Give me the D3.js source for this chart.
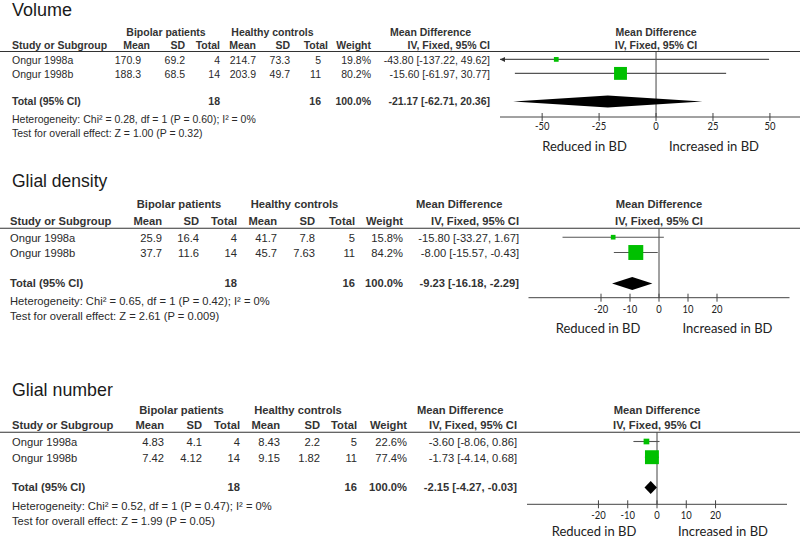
<!DOCTYPE html>
<html><head><meta charset="utf-8">
<script src="https://cdn.jsdelivr.net/npm/d3@7"></script>
<style>body{margin:0;background:#fff}svg{display:block}</style>
</head><body><svg id="c" width="800" height="538"></svg>
<script>
// ---------- data ----------
const outcomes = ["Volume", "Glial density", "Glial number"];
const studies = ["Ongur 1998a", "Ongur 1998b"];
const bpMean = [[170.9, 188.3], [25.9, 37.7], [4.83, 7.42]];
const bpSD = [[69.2, 68.5], [16.4, 11.6], [4.1, 4.12]];
const bpN = [[4, 14], [4, 14], [4, 14]];
const hcMean = [[214.7, 203.9], [41.7, 45.7], [8.43, 9.15]];
const hcSD = [[73.3, 49.7], [7.8, 7.63], [2.2, 1.82]];
const hcN = [[5, 11], [5, 11], [5, 11]];
const weights = [[19.8, 80.2], [15.8, 84.2], [22.6, 77.4]];
const md = [[-43.80, -15.60], [-15.80, -8.00], [-3.60, -1.73]];
const ciLow = [[-137.22, -61.97], [-33.27, -15.57], [-8.06, -4.14]];
const ciHigh = [[49.62, 30.77], [1.67, -0.43], [0.86, 0.68]];
const totalMD = [-21.17, -9.23, -2.15];
const totalLow = [-62.71, -16.18, -4.27];
const totalHigh = [20.36, -2.29, -0.03];
const totalBpN = [18, 18, 18];
const totalHcN = [16, 16, 16];
const totalWeight = [100, 100, 100];
const heterogeneity = [
  "Heterogeneity: Chi\u00b2 = 0.28, df = 1 (P = 0.60); I\u00b2 = 0%",
  "Heterogeneity: Chi\u00b2 = 0.65, df = 1 (P = 0.42); I\u00b2 = 0%",
  "Heterogeneity: Chi\u00b2 = 0.52, df = 1 (P = 0.47); I\u00b2 = 0%"];
const overallEffect = [
  "Test for overall effect: Z = 1.00 (P = 0.32)",
  "Test for overall effect: Z = 2.61 (P = 0.009)",
  "Test for overall effect: Z = 1.99 (P = 0.05)"];
const axisTicks = [[-50, -25, 0, 25, 50], [-20, -10, 0, 10, 20], [-20, -10, 0, 10, 20]];
const axisDomains = [[-68.5, 63.2], [-45, 45], [-44.4, 44.4]];
const favourLabels = ["Reduced in BD", "Increased in BD"];
const groupHeaders = ["Bipolar patients", "Healthy controls"];
const colHeaders = ["Study or Subgroup", "Mean", "SD", "Total", "Mean", "SD", "Total", "Weight"];

// ---------- layout ----------
const layout = [
  {fs:10.5, titleY:15.5, titleSize:18, yH1:35.5, yH2:48.8, yLine:51.5, yRows:[64.2,78.2], yTotal:105, yHet:123, yTest:137.3,
   yAxis:117, yTick:130, yFav:151, xStudy:12,
   hdrX:[150,185,220,256,290,328,371], valX:[141,185,220,256,290,321,371], ciX:490, mdH1:390, grpX:[166,272.5],
   range:[500,800], favX:[584.5,714], sq:0.9, diamH:12},
  {fs:11.2, titleY:187, titleSize:17.5, yH1:208, yH2:224.6, yLine:228.3, yRows:[242,257.3], yTotal:287, yHet:304.5, yTest:320,
   yAxis:297.7, yTick:312.5, yFav:333, xStudy:10,
   hdrX:[162,199,237,277,315,355,403], valX:[162,199,237,277,315,355,403], ciX:519, mdH1:416, grpX:[179,294.5],
   range:[528.5,789.5], favX:[598,727.5], sq:1, diamH:13},
  {fs:11.2, titleY:396, titleSize:17.8, yH1:414, yH2:428.6, yLine:432.3, yRows:[446.3,462], yTotal:491, yHet:509.7, yTest:525.3,
   yAxis:504.3, yTick:519, yFav:535.5, xStudy:12,
   hdrX:[164,202,240,280,320,357,407], valX:[164,202,240,280,320,357,407], ciX:517, mdH1:417, grpX:[181.5,298],
   range:[527,787], favX:[594,723], sq:1, diamH:13}
];

const svg = d3.select("#c");
const tableFont = "'Liberation Sans', Arial, sans-serif";
const plotFont = "Lato, 'Open Sans', sans-serif";
const txt = "#2a2a2a";
const green = "#00c000";

function t(g, x, y, s, opt = {}) {
  return g.append("text").attr("x", x).attr("y", y).text(s)
    .attr("font-family", opt.font || tableFont)
    .attr("font-size", opt.size)
    .attr("font-weight", opt.bold ? "bold" : null)
    .attr("text-anchor", opt.anchor || "start")
    .attr("fill", opt.fill || txt);
}

outcomes.forEach((name, p) => {
  const L = layout[p];
  const g = svg.append("g");
  const fs = L.fs;
  t(g, 12, L.titleY, name, {size: L.titleSize, fill: "#1a1a1a"});
  groupHeaders.forEach((h, i) => t(g, L.grpX[i], L.yH1, h, {size: fs, bold: true, anchor: "middle", fill: "#333"}));
  t(g, L.mdH1, L.yH1, "Mean Difference", {size: fs, bold: true, fill: "#333"});
  t(g, L.xStudy, L.yH2, colHeaders[0], {size: fs, bold: true, fill: "#333"});
  colHeaders.slice(1).forEach((h, i) => t(g, L.hdrX[i], L.yH2, h, {size: fs, bold: true, anchor: "end", fill: "#333"}));
  t(g, L.ciX, L.yH2, "IV, Fixed, 95% CI", {size: fs, bold: true, anchor: "end", fill: "#333"});
  const x = d3.scaleLinear().domain(axisDomains[p]).range(L.range);
  const x0 = x(0);
  t(g, x0, L.yH1, "Mean Difference", {size: fs, bold: true, anchor: "middle", fill: "#333"});
  t(g, x0, L.yH2, "IV, Fixed, 95% CI", {size: fs, bold: true, anchor: "middle", fill: "#333"});
  g.append("line").attr("x1", 0).attr("x2", 800).attr("y1", L.yLine).attr("y2", L.yLine)
    .attr("stroke", "#333").attr("stroke-width", 1.1);
  const fmtCI = (m, lo, hi) => `${m.toFixed(2)} [${lo.toFixed(2)}, ${hi.toFixed(2)}]`;
  studies.forEach((s, r) => {
    const y = L.yRows[r];
    t(g, L.xStudy, y, s, {size: fs});
    const vals = [bpMean[p][r], bpSD[p][r], bpN[p][r], hcMean[p][r], hcSD[p][r], hcN[p][r]].map(String);
    vals.push(weights[p][r].toFixed(1) + "%");
    vals.forEach((v, i) => t(g, L.valX[i], y, v, {size: fs, anchor: "end"}));
    t(g, L.ciX, y, fmtCI(md[p][r], ciLow[p][r], ciHigh[p][r]), {size: fs, anchor: "end"});
  });
  t(g, L.xStudy, L.yTotal, "Total (95% CI)", {size: fs, bold: true, fill: "#333"});
  t(g, L.valX[2], L.yTotal, String(totalBpN[p]), {size: fs, bold: true, anchor: "end", fill: "#333"});
  t(g, L.valX[5], L.yTotal, String(totalHcN[p]), {size: fs, bold: true, anchor: "end", fill: "#333"});
  t(g, L.valX[6], L.yTotal, totalWeight[p].toFixed(1) + "%", {size: fs, bold: true, anchor: "end", fill: "#333"});
  t(g, L.ciX, L.yTotal, fmtCI(totalMD[p], totalLow[p], totalHigh[p]), {size: fs, bold: true, anchor: "end", fill: "#333"});
  t(g, L.xStudy, L.yHet, heterogeneity[p], {size: fs});
  t(g, L.xStudy, L.yTest, overallEffect[p], {size: fs});

  g.append("line").attr("x1", x0).attr("x2", x0).attr("y1", L.yLine).attr("y2", L.yAxis)
    .attr("stroke", "#444").attr("stroke-width", 1);
  const [dmin, dmax] = axisDomains[p];
  studies.forEach((s, r) => {
    const yc = L.yRows[r] - 4.8;
    const lo = Math.max(ciLow[p][r], dmin), hi = Math.min(ciHigh[p][r], dmax);
    g.append("line").attr("x1", x(lo)).attr("x2", x(hi)).attr("y1", yc).attr("y2", yc)
      .attr("stroke", "#555").attr("stroke-width", 1.1);
    if (ciLow[p][r] < dmin) {
      const ax = x(dmin);
      g.append("path").attr("d", `M${ax},${yc} L${ax + 5},${yc - 2.5} L${ax + 5},${yc + 2.5} Z`).attr("fill", "#333");
    }
    if (ciHigh[p][r] > dmax) {
      const ax = x(dmax);
      g.append("path").attr("d", `M${ax},${yc} L${ax - 5},${yc - 2.5} L${ax - 5},${yc + 2.5} Z`).attr("fill", "#333");
    }
    const side = L.sq * (2.3 + 0.15 * weights[p][r]);
    g.append("rect").attr("x", x(md[p][r]) - side / 2).attr("y", yc - side / 2)
      .attr("width", side).attr("height", side).attr("fill", green);
  });
  const yd = L.yTotal - 3.5, h = L.diamH / 2;
  g.append("path")
    .attr("d", `M${x(totalLow[p])},${yd} L${x(totalMD[p])},${yd - h} L${x(totalHigh[p])},${yd} L${x(totalMD[p])},${yd + h} Z`)
    .attr("fill", "#000");
  g.append("line").attr("x1", L.range[0]).attr("x2", L.range[1]).attr("y1", L.yAxis).attr("y2", L.yAxis)
    .attr("stroke", "#444").attr("stroke-width", 1);
  axisTicks[p].forEach(v => {
    g.append("line").attr("x1", x(v)).attr("x2", x(v)).attr("y1", L.yAxis - 4).attr("y2", L.yAxis + 4)
      .attr("stroke", "#444").attr("stroke-width", 1);
    g.append("text").attr("transform", `translate(${x(v)},${L.yTick}) scale(0.82,1)`)
      .attr("text-anchor", "middle").attr("font-family", plotFont).attr("font-size", 11.5)
      .attr("fill", "#222").text(String(v));
  });
  favourLabels.forEach((f, i) => t(g, L.favX[i], L.yFav, f, {size: 13, anchor: "middle", font: plotFont, fill: "#222"}));
});
</script>
</body></html>
